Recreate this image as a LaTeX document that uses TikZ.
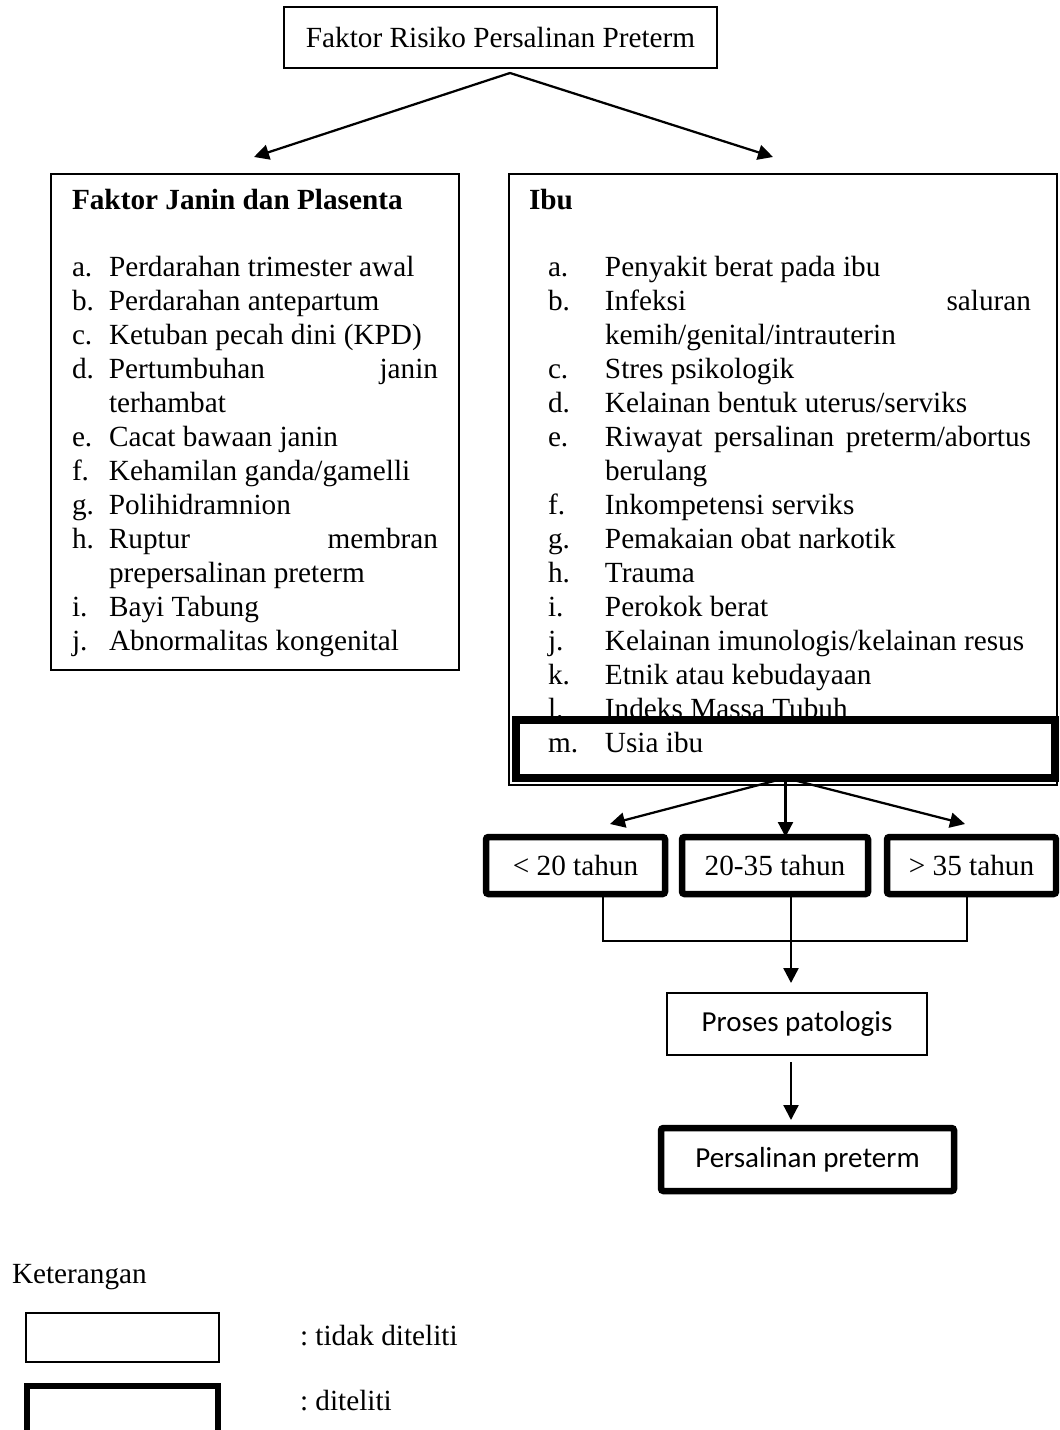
\documentclass[tikz,border=0pt]{standalone}
\usepackage{fontspec}
\setmainfont{Liberation Serif}
\newfontfamily\calibri{Carlito}
\usetikzlibrary{arrows.meta}
\frenchspacing

\begin{document}
\begin{tikzpicture}[x=0.4pt, y=-0.4pt,
    every node/.style={inner sep=0pt, outer sep=0pt, font=\fontsize{11.7}{13.58}\selectfont},
    thinbox/.style={draw, line width=0.5pt, rectangle},
    thickbox/.style={draw, line width=2.6pt, rectangle, rounded corners=1pt},
    sansteks/.style={font=\calibri\fontsize{11.6}{14}\selectfont},
    arrow/.style={line width=0.9pt, -{Triangle[length=6pt, width=6pt]}},
    bracket/.style={line width=0.5pt}]

    \useasboundingbox (0,0) rectangle (1059,1430);
    \clip (0,0) rectangle (1059,1430);

    % Top box and its two branches
    \node[thinbox, minimum width=173.2pt, minimum height=24.4pt] (risiko) at (500.5,37.5) {Faktor Risiko Persalinan Preterm};
    \coordinate (split) at ([shift={(9.5,5)}]risiko.south);
    \coordinate (janintip) at (254,157);
    \coordinate (ibutip) at (773,157);
    \draw[arrow] (split) -- (janintip);
    \draw[arrow] (split) -- (ibutip);

    % Fetal and placental factors
    \node[thinbox, minimum width=163.2pt, minimum height=198.4pt] (janin) at (255,422) {};
    \node[anchor=base west] (janinjudul) at (72,210) {\textbf{Faktor Janin dan Plasenta}};
    \node[anchor=base west] (janinlist) at (72,277) {%
        \begin{tabular}[t]{@{}p{14.8pt}@{}l@{}}
        a. & Perdarahan trimester awal \\
        b. & Perdarahan antepartum \\
        c. & Ketuban pecah dini (KPD) \\
        d. & \makebox[131.6pt]{Pertumbuhan\hfill janin} \\
           & terhambat \\
        e. & Cacat bawaan janin \\
        f. & Kehamilan ganda/gamelli \\
        g. & Polihidramnion \\
        h. & \makebox[131.6pt]{Ruptur\hfill membran} \\
           & prepersalinan preterm \\
        i. & Bayi Tabung \\
        j. & Abnormalitas kongenital
        \end{tabular}};

    % Maternal factors
    \node[thinbox, minimum width=219.2pt, minimum height=244.4pt] (ibu) at (783,479.5) {};
    \node[anchor=base west] (ibujudul) at (529,210) {\textbf{Ibu}};
    \node[anchor=base west] (ibulist) at (548,277) {%
        \begin{tabular}[t]{@{}p{22.8pt}@{}l@{}}
        a. & Penyakit berat pada ibu \\
        b. & \makebox[170.4pt]{Infeksi\hfill saluran} \\
           & kemih/genital/intrauterin \\
        c. & Stres psikologik \\
        d. & Kelainan bentuk uterus/serviks \\
        e. & \makebox[170.4pt][s]{Riwayat persalinan preterm/abortus} \\
           & berulang \\
        f. & Inkompetensi serviks \\
        g. & Pemakaian obat narkotik \\
        h. & Trauma \\
        i. & Perokok berat \\
        j. & Kelainan imunologis/kelainan resus \\
        k. & Etnik atau kebudayaan \\
        l. & Indeks Massa Tubuh \\
        m. & Usia ibu
        \end{tabular}};
    \node[draw, line width=3pt, minimum width=215.6pt, minimum height=23.2pt] (usia) at (785.5,749) {};

    % Age groups
    \node[thickbox, minimum width=71.6pt, minimum height=22.8pt] (muda) at (575.5,865.5) {< 20 tahun};
    \node[thickbox, minimum width=74.4pt, minimum height=22.8pt] (ideal) at (775,865.5) {20-35 tahun};
    \node[thickbox, minimum width=67.6pt, minimum height=22.8pt] (tua) at (971.5,865.5) {> 35 tahun};
    \coordinate (mudatip) at (610,824);
    \coordinate (tuatip) at (965,824);
    \draw[arrow] (usia.south) -- (mudatip);
    \draw[arrow] (usia.south) -- (usia.south |- ideal.north);
    \draw[arrow] (usia.south) -- (tuatip);

    \coordinate (bL) at (603,941);
    \coordinate (bR) at (967,941);
    \draw[bracket] (muda.south -| bL) -- (bL) -- (bR) -- (tua.south -| bR);

    % Outcome
    \node[thinbox, sansteks, minimum width=104pt, minimum height=24.8pt] (proses) at (797,1024) {Proses patologis};
    \node[thickbox, sansteks, minimum width=117.2pt, minimum height=25.2pt] (preterm) at (807.5,1159.5) {Persalinan preterm};
    \coordinate (poros) at (791,941);
    \draw[arrow, line width=1pt, shorten >=4pt] (ideal.south -| poros) -- (proses.north -| poros);
    \draw[arrow, shorten <=2.8pt, shorten >=3.2pt] (proses.south -| poros) -- (preterm.north -| poros);

    % Legend
    \node[anchor=base west] (ket) at (12,1283) {Keterangan};
    \node[thinbox, minimum width=77.2pt, minimum height=19.6pt] (legtipis) at (122.5,1337.5) {};
    \node[anchor=base west] (legtipisteks) at (300,1345) {: tidak diteliti};
    \node[draw, line width=2.6pt, minimum width=76.4pt, minimum height=25.6pt] (legtebal) at (122.5,1418) {};
    \node[anchor=base west] (legtebalteks) at (300,1410) {: diteliti};
\end{tikzpicture}
\end{document}
